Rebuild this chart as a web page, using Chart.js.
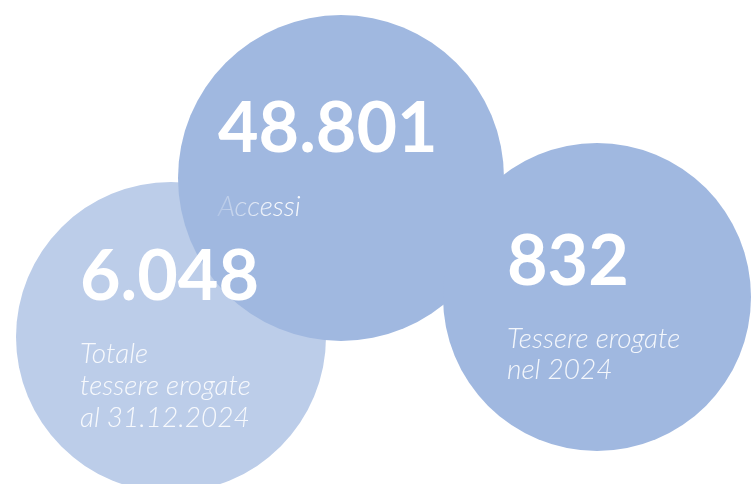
<!DOCTYPE html>
<html>
<head>
<meta charset="utf-8">
<script src="https://cdn.jsdelivr.net/npm/chart.js@4.4.1/dist/chart.umd.min.js"></script>
<style>
  html, body { margin: 0; padding: 0; background: #ffffff; }
  #wrap { width: 751px; height: 484px; position: relative; }
</style>
</head>
<body>
<div id="wrap"><canvas id="bubbleChart"></canvas></div>
<script>
// Figures shown in each circle
const categories = ['Totale tessere erogate al 31.12.2024', 'Accessi', 'Tessere erogate nel 2024'];
const values = [6048, 48801, 832];
const valueLabels = ['6.048', '48.801', '832'];
const captionLines = [
    ['Totale', 'tessere erogate', 'al 31.12.2024'],
    ['Accessi'],
    ['Tessere erogate', 'nel 2024']
];
// Bubble placement (x, y, radius)
const bubbleX = [171, 341, 597];
const bubbleY = [337, 178, 297];
const bubbleR = [155, 163, 154];

// Text layout, relative to each bubble centre
const textLayout = [
    { dx: -91, numDy: -37, capDy: 26, lineH: 32 },
    { dx: -123, numDy: -26, capDy: 38, lineH: 32 },
    { dx: -90, numDy: -12, capDy: 51, lineH: 31 }
];
const bubbleColors = ['#bccde9', '#a0b8e0', '#a0b8e0'];

// Draws the big numbers and the italic captions over the circles
const labelPlugin = {
    id: 'bubbleLabels',
    afterDatasetsDraw(chart) {
        const ctx = chart.ctx;
        const meta = chart.getDatasetMeta(0);
        ctx.save();
        ctx.textAlign = 'left';
        ctx.textBaseline = 'alphabetic';
        meta.data.forEach((pt, i) => {
            const lay = textLayout[i];
            const x = pt.x + lay.dx;
            ctx.font = 'bold 70px Lato';
            ctx.fillStyle = '#ffffff';
            ctx.fillText(valueLabels[i], x, pt.y + lay.numDy);

            ctx.font = 'italic 300 28px Lato';
            captionLines[i].forEach((line, j) => {
                if (i === 1) {
                    // "Accessi" fades in from the left in the original
                    const g = ctx.createLinearGradient(x, 0, x + 55, 0);
                    g.addColorStop(0, 'rgba(255,255,255,0.2)');
                    g.addColorStop(1, 'rgba(255,255,255,0.92)');
                    ctx.fillStyle = g;
                } else {
                    ctx.fillStyle = 'rgba(255,255,255,0.88)';
                }
                ctx.fillText(line, x, pt.y + lay.capDy + j * lay.lineH);
            });
        });
        ctx.restore();
    }
};

new Chart(document.getElementById('bubbleChart'), {
    type: 'bubble',
    data: {
        labels: categories,
        datasets: [{
            label: 'Tessere',
            data: values.map((v, i) => ({ x: bubbleX[i], y: bubbleY[i], r: bubbleR[i], v: v })),
            backgroundColor: bubbleColors,
            borderWidth: 0,
            hoverRadius: 0,
            clip: false
        }]
    },
    options: {
        responsive: true,
        maintainAspectRatio: false,
        animation: false,
        events: [],
        layout: { autoPadding: false, padding: 0 },
        scales: {
            x: { display: false, min: 0, max: 751 },
            y: { display: false, min: 0, max: 484, reverse: true }
        },
        plugins: {
            legend: { display: false },
            tooltip: { enabled: false }
        }
    },
    plugins: [labelPlugin]
});
</script>
</body>
</html>
